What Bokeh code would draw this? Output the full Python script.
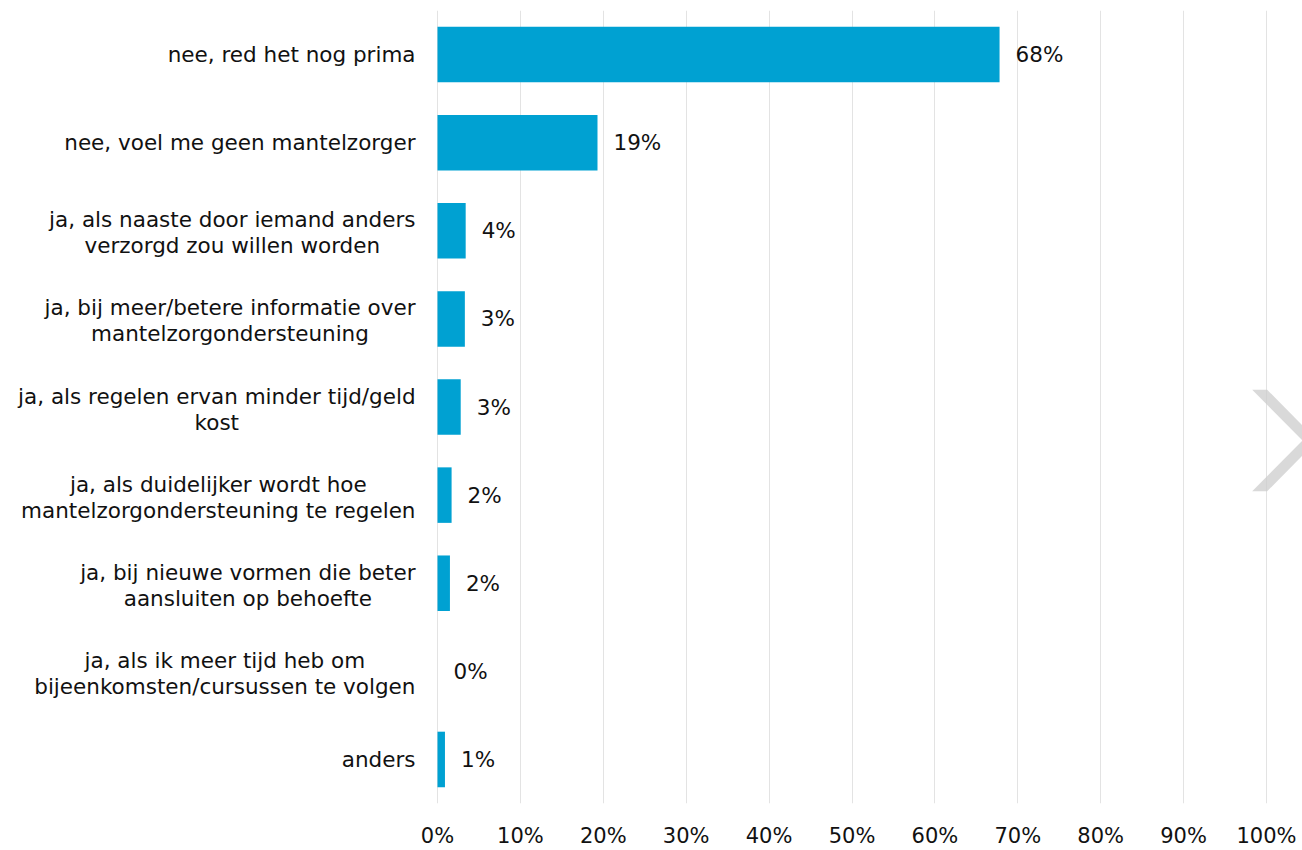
import glob
from bokeh.plotting import figure
from bokeh.models import (ColumnDataSource, LabelSet, Range1d, FixedTicker,
                          PrintfTickFormatter, PolyAnnotation)
from bokeh.core.properties import value
from bokeh.embed import file_html
from bokeh.resources import INLINE

# ---------------- data ----------------
categories = [
    "nee, red het nog prima",
    "nee, voel me geen mantelzorger",
    "ja, als naaste door iemand anders\nverzorgd zou willen worden",
    "ja, bij meer/betere informatie over\nmantelzorgondersteuning",
    "ja, als regelen ervan minder tijd/geld\nkost",
    "ja, als duidelijker wordt hoe\nmantelzorgondersteuning te regelen",
    "ja, bij nieuwe vormen die beter\naansluiten op behoefte",
    "ja, als ik meer tijd heb om\nbijeenkomsten/cursussen te volgen",
    "anders",
]
values = [67.8, 19.3, 3.4, 3.3, 2.8, 1.7, 1.5, 0.0, 0.9]
value_labels = ["68%", "19%", "4%", "3%", "3%", "2%", "2%", "0%", "1%"]
x_ticks = [0, 10, 20, 30, 40, 50, 60, 70, 80, 90, 100]

# ---------------- style / layout ----------------
FONT = "DejaVu Sans"
FS = 21.5
TICK_FS = 21
BAR_COLOR = "#00A1D2"
TEXT_COLOR = "#111111"
GAP = 22
LINE_H = 26

W, H = 1302, 850
AXIS_LEFT_PX = 437     # where 0% sits
AXIS_RIGHT_PX = 1266   # where 100% sits
FRAME_TOP = 10
FRAME_BOTTOM = 808
PX_PER_UNIT = (AXIS_RIGHT_PX - AXIS_LEFT_PX) / 100.0
X_START = -AXIS_LEFT_PX / PX_PER_UNIT
X_END = 100 + (W - AXIS_RIGHT_PX) / PX_PER_UNIT


def _find_font():
    for pat in ["/usr/share/fonts/truetype/dejavu/DejaVuSans.ttf",
                "/usr/share/fonts/**/DejaVuSans.ttf",
                "/usr/**/DejaVuSans.ttf"]:
        hits = glob.glob(pat, recursive=True)
        if hits:
            return hits[0]
    return None


try:
    from PIL import ImageFont
    _pf = ImageFont.truetype(_find_font(), FS)

    def text_w(s):
        return _pf.getlength(s)
except Exception:
    def text_w(s):
        return 0.6 * FS * len(s)

ys = list(range(len(categories)))

bar_src = ColumnDataSource(dict(y=ys, value=values, label=value_labels))

lx, ly, lt, lxo, lyo = [], [], [], [], []
for i, cat in enumerate(categories):
    lines = cat.split("\n")
    w = max(text_w(s) for s in lines)
    n = len(lines)
    for j, s in enumerate(lines):
        lx.append(0)
        ly.append(i)
        lt.append(s)
        lxo.append(-(GAP + w / 2.0))
        off = LINE_H * ((n - 1) / 2.0 - j)
        if n > 1:
            off -= 2
        lyo.append(off)
cat_src = ColumnDataSource(dict(x=lx, y=ly, text=lt, xo=lxo, yo=lyo))

p = figure(width=W, height=H, output_backend="svg", toolbar_location=None,
           x_range=Range1d(X_START, X_END),
           y_range=Range1d(len(categories) - 0.5, -0.5),
           min_border_left=0, min_border_right=0, min_border_top=FRAME_TOP,
           min_border_bottom=H - FRAME_BOTTOM)
p.outline_line_color = None
p.background_fill_color = "white"
p.border_fill_color = "white"

p.hbar(y="y", left=0, right="value", height=0.63, source=bar_src,
       fill_color=BAR_COLOR, line_color=None)

p.add_layout(LabelSet(x="value", y="y", text="label", source=bar_src,
                      x_offset=16, text_baseline="middle", text_align="left",
                      text_font=value(FONT), text_font_size=f"{FS}px",
                      text_color=TEXT_COLOR))

p.add_layout(LabelSet(x="x", y="y", text="text", source=cat_src,
                      x_offset="xo", y_offset="yo", text_baseline="middle",
                      text_align="center", text_font=value(FONT),
                      text_font_size=f"{FS}px", text_color=TEXT_COLOR))

# axes
p.yaxis.visible = False
ax = p.xaxis[0]
ax.ticker = FixedTicker(ticks=x_ticks)
ax.formatter = PrintfTickFormatter(format="%d%%")
ax.axis_line_color = None
ax.major_tick_line_color = None
ax.minor_tick_line_color = None
ax.major_tick_out = 0
ax.major_tick_in = 0
ax.major_label_standoff = 20
ax.major_label_text_font = FONT
ax.major_label_text_font_size = f"{TICK_FS}px"
ax.major_label_text_color = TEXT_COLOR

p.xgrid.ticker = FixedTicker(ticks=x_ticks)
p.xgrid.grid_line_color = "#e3e3e3"
p.xgrid.grid_line_width = 1
p.ygrid.visible = False

# decorative carousel chevron (overlay, canvas units)
p.add_layout(PolyAnnotation(
    xs=[1251.7, 1266.7, 1317, 1266.7, 1251.7, 1302],
    ys=[389.3, 389.3, 440, 490.7, 490.7, 440],
    xs_units="canvas", ys_units="canvas",
    fill_color="#cccccc", fill_alpha=0.75, line_color=None))

open("out.html", "w").write(file_html(p, INLINE))
